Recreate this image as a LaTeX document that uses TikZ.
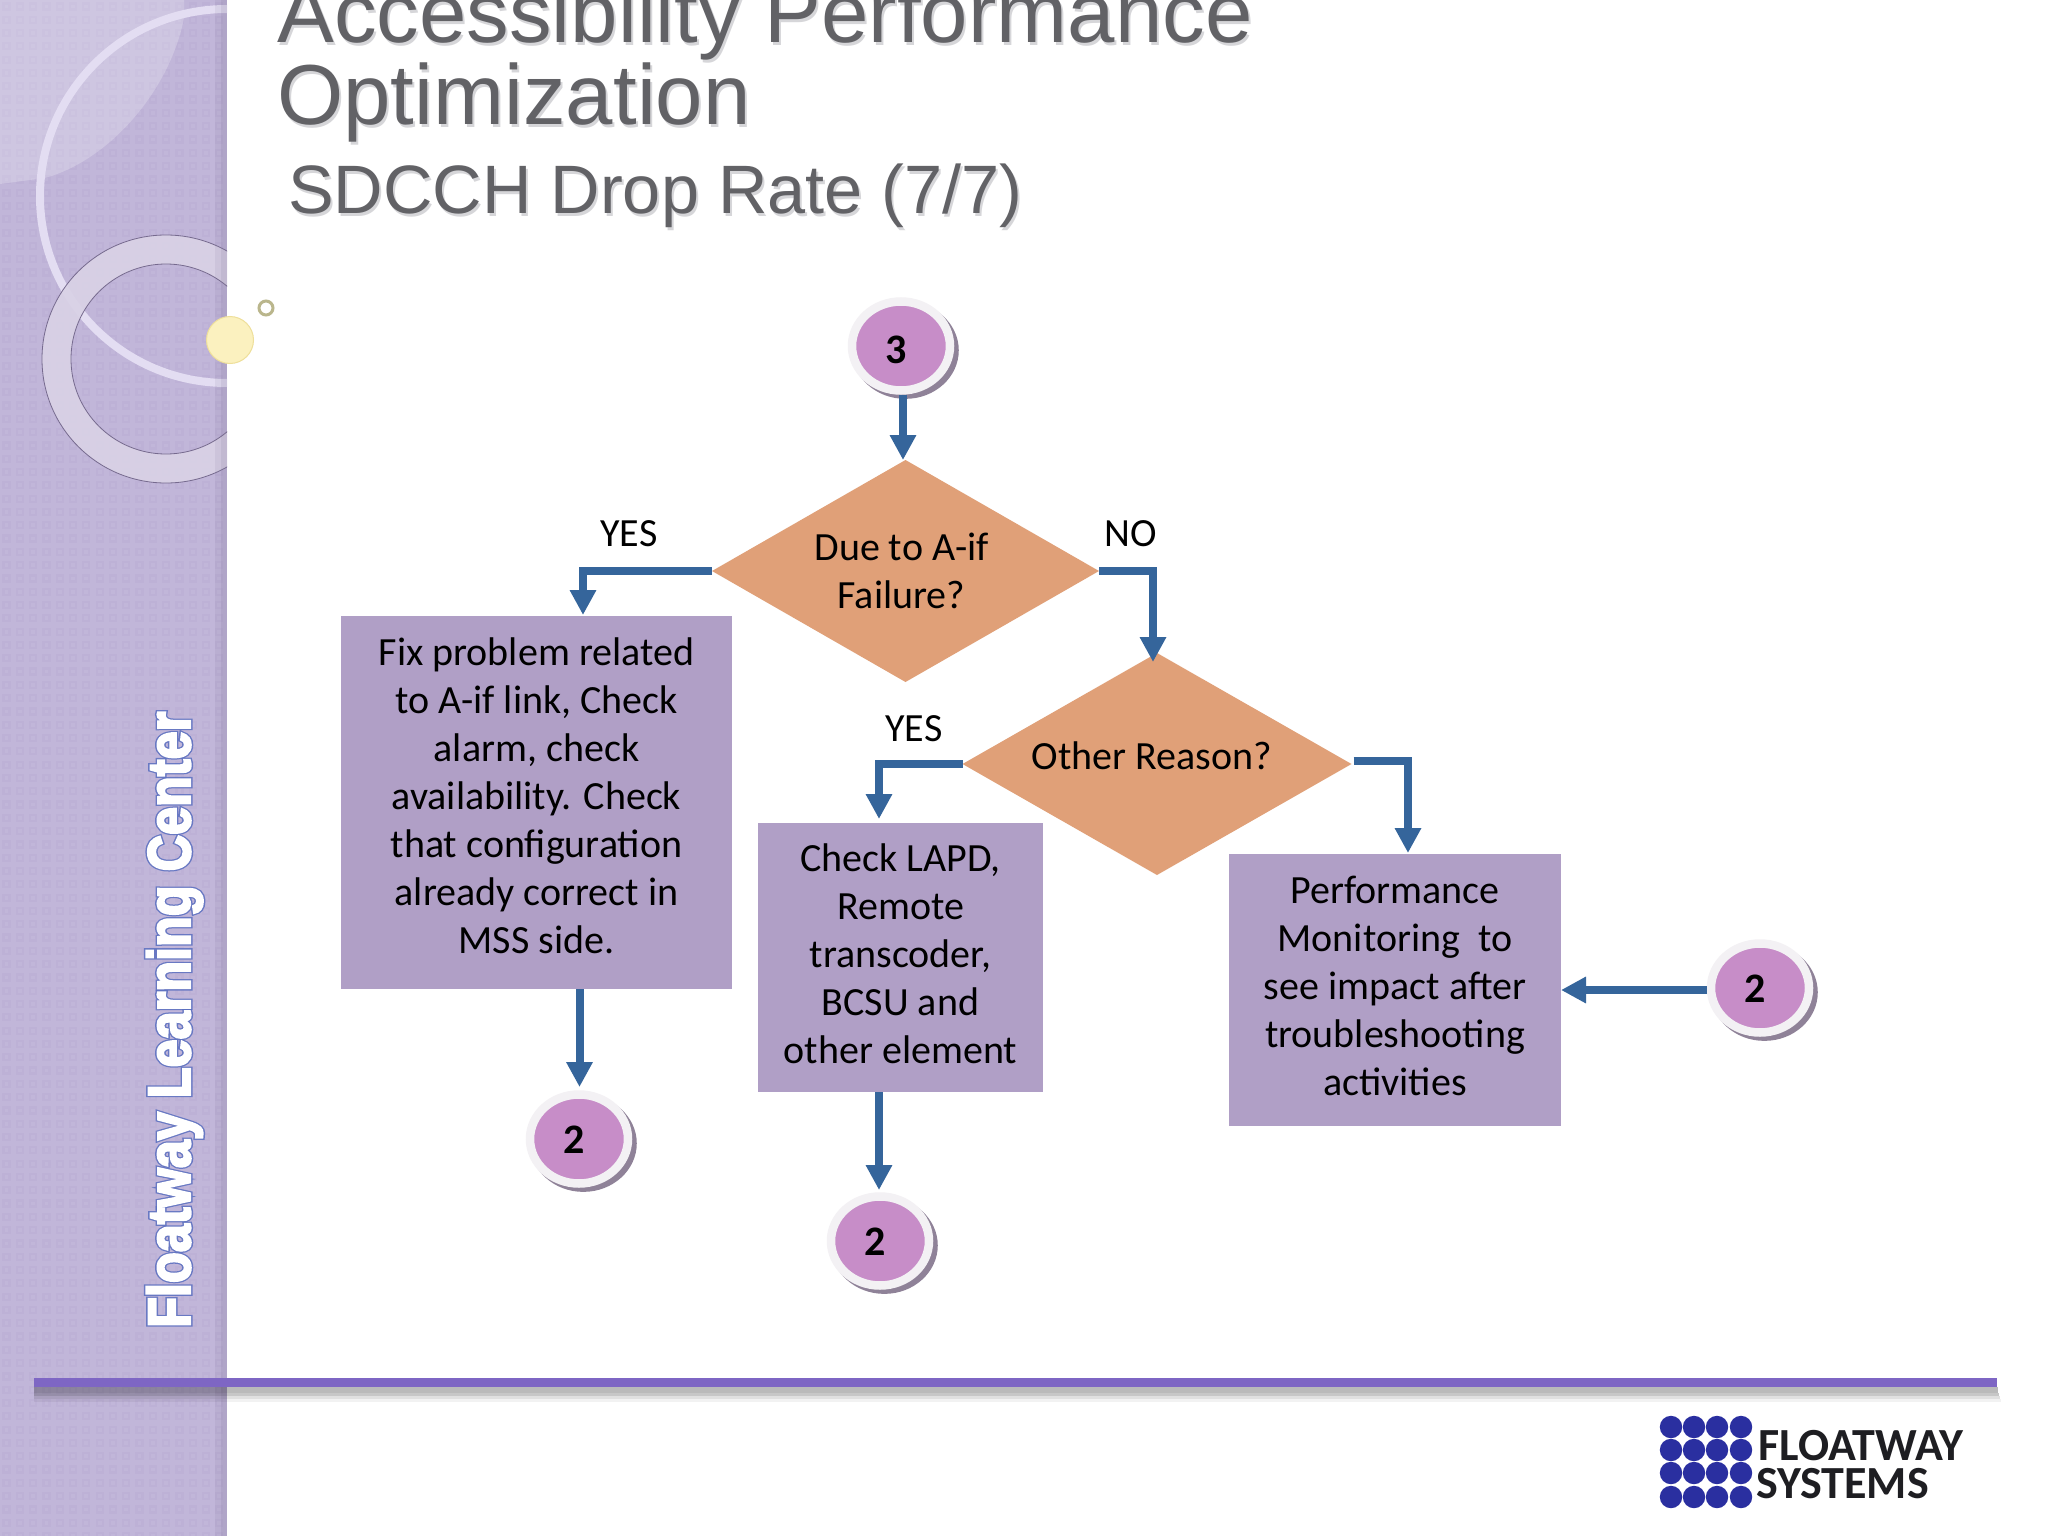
\documentclass[tikz,border=0pt]{standalone}
\usepackage{fontspec}
\setmainfont{Carlito}
\newfontfamily\titlefont{Liberation Sans}
\newfontfamily\glowfont[FakeBold=9]{Liberation Sans Bold}
\newfontfamily\whitefont[FakeBold=4]{Liberation Sans Bold}
\usetikzlibrary{arrows.meta,shapes.geometric,shadows,calc}
\newcommand{\liftup}[1]{\rule[-#1pt]{0pt}{0pt}}
\newcommand{\leftup}[1]{\hspace*{#1pt}}
\definecolor{sidebar}{HTML}{C1B6D9}
\definecolor{sidedark}{HTML}{A998CB}
\definecolor{ringlight}{HTML}{E3DDF2}
\definecolor{ringpale}{HTML}{D9D2E6}
\definecolor{titlegray}{HTML}{626266}
\definecolor{titleshadow}{HTML}{D6D6D9}
\definecolor{diamondfill}{HTML}{E0A078}
\definecolor{boxfill}{HTML}{B09FC6}
\definecolor{arrowblue}{HTML}{35659B}
\definecolor{bubblefill}{HTML}{C78DC8}
\definecolor{bubbleedge}{HTML}{F3F1F4}
\definecolor{bubbleshadow}{HTML}{8F8298}
\definecolor{rulepurple}{HTML}{7E66C4}
\definecolor{logoblue}{HTML}{2A2FA0}
\definecolor{logotext}{HTML}{1E1E22}
\definecolor{glowblue}{HTML}{5A6FC0}
\definecolor{sunfill}{HTML}{FBF1BF}
\definecolor{sunedge}{HTML}{EEDF9A}
\definecolor{dotedge}{HTML}{BAB68C}
\tikzset{
  x=1pt,y=-1pt,
  bodytext/.style={font=\fontsize{40}{48}\selectfont,text=black,align=center,inner sep=0,outer sep=0},
  decision/.style={diamond,fill=diamondfill,bodytext,aspect=1.74},
  procbox/.style={rectangle,fill=boxfill,bodytext},
  flow/.style={draw=arrowblue,line width=8pt,-{Triangle[width=25pt,length=25pt]}},
  bubble/.style={ellipse,fill=bubblefill,draw=bubbleedge,line width=8.5pt,inner sep=0,outer sep=4pt,
    minimum width=98pt,minimum height=89pt,
    font=\fontsize{42}{44}\selectfont\bfseries,text=black,
    general shadow={shadow xshift=4pt,shadow yshift=-4pt,shadow scale=1.09,fill=bubbleshadow}},
  edgelabel/.style={font=\fontsize{40}{48}\selectfont,text=black,inner sep=0},
  titletext/.style={font=\titlefont\fontsize{85.2}{85}\selectfont,text=titlegray,anchor=base west,inner sep=0},
  subtitletext/.style={font=\titlefont\fontsize{68.5}{70}\selectfont,text=titlegray,anchor=base west,inner sep=0},
  titlesh/.style={text=titleshadow},
}
\begin{document}
\begin{tikzpicture}
\useasboundingbox (0,0) rectangle (2048,1536);
\clip (0,0) rectangle (2048,1536);
\fill[white] (0,0) rectangle (2048,1536);
% sidebar
\begin{scope}
\clip (0,0) rectangle (227,1536);
\fill[sidebar] (0,0) rectangle (227,1536);
\foreach \r in {0,...,115}{
  \foreach \c in {0,...,17}{
    \draw[sidedark,opacity=.16,line width=2.2pt] ({\c*13.3+3.5},{\r*13.3+3.5}) rectangle ++(6,6);
  }
}
\fill[white,opacity=.22] (0,0) -- (184,0) -- (184,18) .. controls (170,90) and (110,160) .. (45,178) -- (0,184) -- cycle;
\draw[ringlight,line width=8pt] (227,196) circle (187);
\fill[ringpale,even odd rule,opacity=.92] (166,359) circle (124) (166,359) circle (95);
\draw[sidedark!70!black,line width=.8pt] (166,359) circle (124) (166,359) circle (95);
\fill[black!30!sidedark,opacity=.10] (215,0) rectangle (227,1536);
\fill[black!30!sidedark,opacity=.12] (221,0) rectangle (227,1536);
\end{scope}
\fill[fill=sunfill,draw=sunedge,line width=1pt] (230,340) circle (23.5);
\draw[draw=dotedge,line width=3pt] (266,308) circle (7);
% side label
\node[rotate=90,anchor=base west,inner sep=0,text=glowblue,opacity=.85] (sideglow) at (190,1328)
  {\fontsize{60}{60}\glowfont\scalebox{.84}[1]{Floatway Learning Center}};
\node[rotate=90,anchor=base west,inner sep=0,text=white] (sidelabel) at (190,1328)
  {\fontsize{60}{60}\whitefont\scalebox{.84}[1]{Floatway Learning Center}};
% titles
\node[titletext,titlesh] (t1s) at (279,46) {Accessibility Performance};
\node[titletext,titlesh] (t2s) at (279,128) {Optimization};
\node[subtitletext,titlesh] (t3s) at (290,216) {SDCCH Drop Rate (7/7)};
\node[titletext] (t1) at (277,43) {Accessibility Performance};
\node[titletext] (t2) at (277,125) {Optimization};
\node[subtitletext] (t3) at (288,213) {SDCCH Drop Rate (7/7)};
% bottom rule
\fill[black,opacity=.27] (34,1387) rectangle (1998,1393);
\fill[black,opacity=.22] (34,1393) rectangle (1999,1396);
\fill[black,opacity=.12] (34,1396) rectangle (2000,1399);
\fill[black,opacity=.05] (34,1399) rectangle (2001,1402);
\fill[rulepurple] (34,1378) rectangle (1997,1387);
% logo
\foreach \y in {1427,1450,1473,1497}{
  \foreach \x in {1671,1694,1717,1741}{
    \fill[logoblue] (\x,\y) circle (11.2);
  }
}
\node[anchor=base west,inner sep=0,text=logotext,font=\fontsize{46}{46}\selectfont\bfseries] (logo1) at (1758,1460) {FLOATWAY};
\node[anchor=base west,inner sep=0,text=logotext,font=\fontsize{46}{46}\selectfont\bfseries] (logo2) at (1756,1498) {SYSTEMS};
% flow nodes
\node[decision,minimum width=387pt,minimum height=222pt] (d1) at (905.5,571) {Due to A-if\leftup{8}\\Failure?\leftup{8}};
\node[decision,minimum width=389pt,minimum height=222pt] (d2) at (1157,764) {Other Reason?\leftup{10}\liftup{16}};
\node[procbox,minimum width=391pt,minimum height=373pt] (b1) at (536.5,802.5) {Fix problem related\\to A-if link, Check\\alarm, check\\availability. Check\\that configuration\\already correct in\\MSS side.\liftup{13}};
\node[procbox,minimum width=285pt,minimum height=269pt] (b2) at (900.5,957.5) {Check LAPD,\\Remote\\transcoder,\\BCSU and\\other element\liftup{8}};
\node[procbox,minimum width=332pt,minimum height=272pt] (b3) at (1395,990) {Performance\\Monitoring~ to\\see impact after\\troubleshooting\\activities\liftup{9}};
\node[bubble] (c3) at (901,346) {\kern-9pt\rule{0pt}{35pt}3};
\node[bubble] (c2a) at (579,1139) {\kern-9pt\rule{0pt}{28pt}2};
\node[bubble] (c2b) at (880,1241) {\kern-9pt\rule{0pt}{28pt}2};
\node[bubble] (c2c) at (1760,988) {\kern-9pt\rule{0pt}{28pt}2};
% connector ends
\coordinate (tipd1) at (903,460);
\coordinate (tipb1) at (583,615);
\coordinate (tipd2) at (1153,662);
\coordinate (tipb2) at (879,819);
\coordinate (tipb3) at (1408,853);
\coordinate (tipc2a) at (579.5,1087);
\coordinate (tipc2b) at (879,1190);
% connectors
\draw[flow] ($(c3.south)+(2,0)$) -- (tipd1);
\draw[flow] (d1.west) -| (tipb1);
\draw[flow] (d1.east) -| (tipd2);
\draw[flow] (d2.west) -| (tipb2);
\draw[flow] ($(d2.east)+(2,-3)$) -| (tipb3);
\draw[flow] (b1.south -| tipc2a) -- (tipc2a);
\draw[flow] (b2.south -| tipc2b) -- (tipc2b);
\draw[flow] (c2c.west |- b3.east) -- (b3.east);
% edge labels
\node[edgelabel] (yes1) at (629,534) {YES};
\node[edgelabel] (no1) at (1131,534) {NO};
\node[edgelabel] (yes2) at (914,729) {YES};
\end{tikzpicture}
\end{document}
